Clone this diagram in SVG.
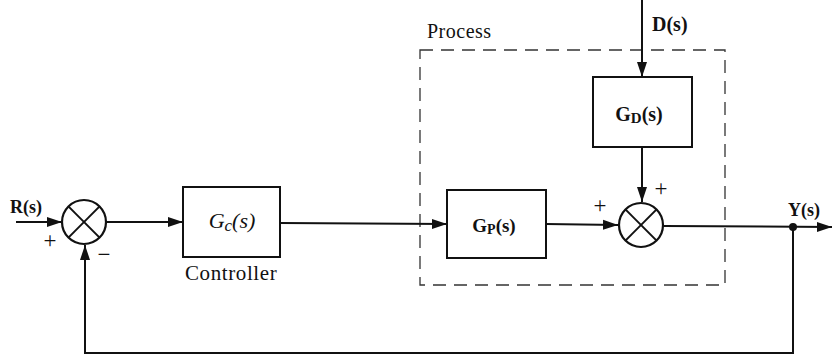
<svg xmlns="http://www.w3.org/2000/svg" width="833" height="358" viewBox="0 0 833 358">
<style>
.ln{fill:none;stroke:#111;stroke-width:2}
.box{fill:#fff;stroke:#111;stroke-width:2}
.sum{fill:#fff;stroke:#111;stroke-width:2.2}
.dash{fill:none;stroke:#333;stroke-width:1.3;stroke-dasharray:13 8}
.t{font-family:"Liberation Serif","Times New Roman",serif;fill:#111}
.b{font-weight:bold}
.i{font-style:italic}
.sign{font-family:"Liberation Serif","Times New Roman",serif;font-size:23px;fill:#111}
</style>
<defs>
<marker id="arr" markerUnits="userSpaceOnUse" markerWidth="16" markerHeight="12" refX="15" refY="6" orient="auto">
<path d="M0,1 L15,6 L0,11 Z" fill="#111"/>
</marker>
</defs>
<rect width="833" height="358" fill="#fff"/>

<g id="process-boundary">
<rect class="dash" x="420" y="50" width="305" height="235"/>
<text class="t" x="427" y="38" font-size="20" letter-spacing="0.5">Process</text>
</g>

<g id="connectors">
<line class="ln" x1="16" y1="222" x2="62" y2="222" marker-end="url(#arr)"/>
<line class="ln" x1="107" y1="222" x2="183" y2="222" marker-end="url(#arr)"/>
<line class="ln" x1="280" y1="223" x2="447" y2="224" marker-end="url(#arr)"/>
<line class="ln" x1="546" y1="224" x2="618" y2="225" marker-end="url(#arr)"/>
<line class="ln" x1="642" y1="0" x2="642" y2="77" marker-end="url(#arr)"/>
<line class="ln" x1="642" y1="147" x2="642" y2="202" marker-end="url(#arr)"/>
<line class="ln" x1="664" y1="226" x2="832" y2="227" marker-end="url(#arr)"/>
<polyline class="ln" points="793,227 793,353 85,353 85,245" marker-end="url(#arr)"/>
<circle cx="793" cy="227" r="4" fill="#111"/>
</g>

<g id="sum1">
<circle class="sum" cx="84" cy="222" r="22"/>
<line class="ln" x1="68.4" y1="206.4" x2="99.6" y2="237.6"/>
<line class="ln" x1="99.6" y1="206.4" x2="68.4" y2="237.6"/>
<text class="sign" x="50" y="248" text-anchor="middle">+</text>
<text class="sign" x="104" y="262" text-anchor="middle">−</text>
</g>

<g id="controller">
<rect class="box" x="183" y="187" width="97" height="70"/>
<text class="t i" x="232" y="228" font-size="22" text-anchor="middle">G<tspan font-size="17" dy="3">c</tspan><tspan dy="-3">(s)</tspan></text>
<text class="t" x="185" y="280" font-size="21" letter-spacing="0.6">Controller</text>
</g>

<g id="gp">
<rect class="box" x="447" y="190" width="99" height="68"/>
<text class="t b" x="494" y="232" font-size="19" text-anchor="middle">G<tspan font-size="14" dy="2">P</tspan><tspan dy="-2">(s)</tspan></text>
</g>

<g id="gd">
<rect class="box" x="593" y="77" width="99" height="70"/>
<text class="t b" x="639" y="121" font-size="20" text-anchor="middle">G<tspan font-size="15" dy="2">D</tspan><tspan dy="-2">(s)</tspan></text>
</g>

<g id="sum2">
<circle class="sum" cx="641" cy="225" r="22"/>
<line class="ln" x1="625.4" y1="209.4" x2="656.6" y2="240.6"/>
<line class="ln" x1="656.6" y1="209.4" x2="625.4" y2="240.6"/>
<text class="sign" x="600" y="213" text-anchor="middle">+</text>
<text class="sign" x="661" y="196" text-anchor="middle">+</text>
</g>

<g id="labels">
<text class="t b" x="10" y="213" font-size="18">R(s)</text>
<text class="t b" x="652" y="31" font-size="20">D(s)</text>
<text class="t b" x="788" y="216" font-size="18">Y(s)</text>
</g>
</svg>
